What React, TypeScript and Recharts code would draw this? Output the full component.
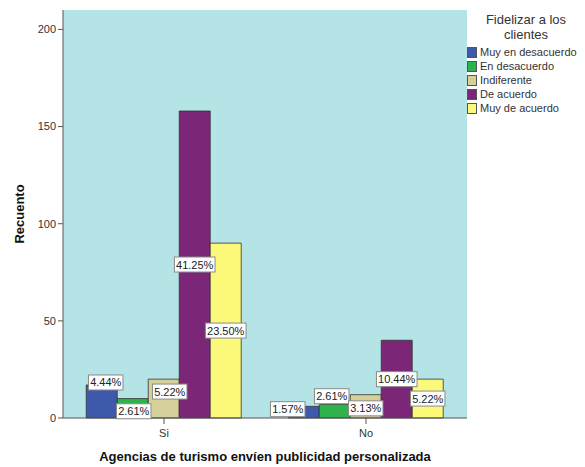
import React from 'react';
import {
  BarChart,
  Bar,
  XAxis,
  YAxis,
  CartesianGrid,
  LabelList,
} from 'recharts';

const categories = ['Si', 'No'];

// Recuento per answer, one entry per category
const muyDesacuerdo = [17, 6];
const enDesacuerdo = [10, 7];
const indiferente = [20, 12];
const deAcuerdo = [158, 40];
const muyAcuerdo = [90, 20];

// percentage labels shown on the bars
const muyDesacuerdoPct = ['4.44%', '1.57%'];
const enDesacuerdoPct = ['2.61%', '2.61%'];
const indiferentePct = ['5.22%', '3.13%'];
const deAcuerdoPct = ['41.25%', '10.44%'];
const muyAcuerdoPct = ['23.50%', '5.22%'];

const yTicks = [0, 50, 100, 150, 200];

const series = [
  { key: 'muyDesacuerdo', name: 'Muy en desacuerdo', color: '#3E58AC', values: muyDesacuerdo, pct: muyDesacuerdoPct },
  { key: 'enDesacuerdo', name: 'En desacuerdo', color: '#2EB24B', values: enDesacuerdo, pct: enDesacuerdoPct },
  { key: 'indiferente', name: 'Indiferente', color: '#D5CF99', values: indiferente, pct: indiferentePct },
  { key: 'deAcuerdo', name: 'De acuerdo', color: '#7B2677', values: deAcuerdo, pct: deAcuerdoPct },
  { key: 'muyAcuerdo', name: 'Muy de acuerdo', color: '#FCF97A', values: muyAcuerdo, pct: muyAcuerdoPct },
];

const data = categories.map((name, i) => {
  const row: Record<string, string | number> = { name };
  series.forEach((s) => {
    row[s.key] = s.values[i];
  });
  return row;
});

// small nudges so overlapping labels on short bars stay readable
const labelNudge: Record<string, [number, number][]> = {
  muyDesacuerdo: [[4, -19], [-16, -3]],
  enDesacuerdo: [[1, 3], [-3, -15]],
  indiferente: [[6, -7], [0, 2]],
  deAcuerdo: [[0, 0], [0, 0]],
  muyAcuerdo: [[0, 0], [0, 0]],
};

const FONT = 'Arial, "Liberation Sans", sans-serif';

function makeLabel(key: string, pct: string[]) {
  return (props: any) => {
    const { x, y, width, height, index } = props;
    const text = pct[index];
    const [dx, dy] = labelNudge[key][index];
    const cx = Number(x) + Number(width) / 2 + dx;
    const cy = Number(y) + Number(height) / 2 + dy;
    const w = text.length * 6.1 + 4;
    const h = 15;
    return (
      <g>
        <rect x={cx - w / 2} y={cy - h / 2} width={w} height={h} fill="#ffffff" stroke="#8a8a8a" strokeWidth={1} />
        <text x={cx} y={cy + 4} textAnchor="middle" fontSize={11} fontFamily={FONT} fill="#222">
          {text}
        </text>
      </g>
    );
  };
}

function LegendBox() {
  return (
    <div style={{ position: 'absolute', left: 467, top: 12, width: 118, fontFamily: FONT, color: '#333' }}>
      <div style={{ textAlign: 'center', fontSize: 13, lineHeight: '15px', marginBottom: 3 }}>
        Fidelizar a los<br />clientes
      </div>
      {series.map((s) => (
        <div key={s.key} style={{ display: 'flex', alignItems: 'center', height: 14, fontSize: 11, whiteSpace: 'nowrap' }}>
          <span
            style={{
              display: 'inline-block',
              width: 10,
              height: 11,
              background: s.color,
              border: '1px solid #555',
              boxSizing: 'border-box',
              marginRight: 3,
              flexShrink: 0,
            }}
          />
          {s.name}
        </div>
      ))}
    </div>
  );
}

export default function App() {
  return (
    <div style={{ position: 'relative', width: 585, height: 467, background: '#fff' }}>
      <style>{'body{margin:0}'}</style>
      <BarChart
        width={585}
        height={467}
        data={data}
        margin={{ top: 10, right: 118, bottom: 0, left: 0 }}
        barCategoryGap="11.5%"
        barGap={0}
      >
        <CartesianGrid horizontal={false} vertical={false} fill="#B4E4E5" />
        <XAxis
          dataKey="name"
          axisLine={{ stroke: '#555' }}
          tickLine={{ stroke: '#555' }}
          tickSize={6}
          tick={{ fontSize: 11, fill: '#333', fontFamily: FONT, dy: 3 }}
          height={49}
          label={{
            value: 'Agencias de turismo envíen publicidad personalizada',
            position: 'insideBottom',
            offset: 6,
            style: { fontSize: 13, fontWeight: 'bold', fill: '#111', fontFamily: FONT },
          }}
        />
        <XAxis xAxisId="top" orientation="top" dataKey="name" height={0} tick={false} tickLine={false} axisLine={{ stroke: '#777' }} />
        <YAxis
          domain={[0, 210]}
          ticks={yTicks}
          width={63}
          axisLine={{ stroke: '#555' }}
          tickLine={{ stroke: '#555' }}
          tickSize={5}
          tick={{ fontSize: 11, fill: '#333', fontFamily: FONT }}
          label={{
            value: 'Recuento',
            angle: -90,
            position: 'insideLeft',
            offset: 19,
            style: { fontSize: 13, fontWeight: 'bold', fill: '#111', fontFamily: FONT, textAnchor: 'middle' },
          }}
        />
        <YAxis yAxisId="right" orientation="right" domain={[0, 210]} width={0} tick={false} tickLine={false} axisLine={{ stroke: '#777' }} />
        {series.map((s) => (
          <Bar key={s.key} dataKey={s.key} name={s.name} fill={s.color} stroke="#333" strokeWidth={0.8} isAnimationActive={false}>
            <LabelList dataKey={s.key} content={makeLabel(s.key, s.pct)} />
          </Bar>
        ))}
      </BarChart>
      <LegendBox />
    </div>
  );
}
